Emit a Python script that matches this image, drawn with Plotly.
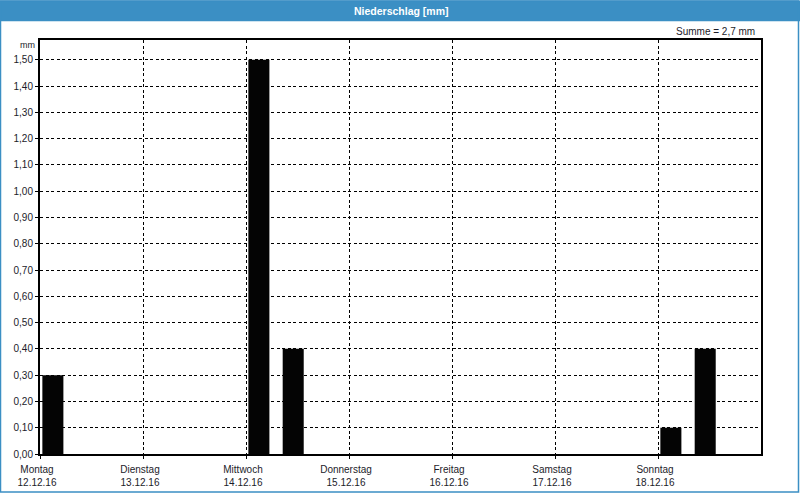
import plotly.graph_objects as go

# ---- data ----
bar_times = ["2016-12-12 03:00", "2016-12-14 03:00", "2016-12-14 11:00",
             "2016-12-18 03:00", "2016-12-18 11:00"]
bar_values = [0.30, 1.50, 0.40, 0.10, 0.40]
day_ticks = ["2016-12-12", "2016-12-13", "2016-12-14", "2016-12-15",
             "2016-12-16", "2016-12-17", "2016-12-18"]
day_names = ["Montag", "Dienstag", "Mittwoch", "Donnerstag", "Freitag", "Samstag", "Sonntag"]
day_dates = ["12.12.16", "13.12.16", "14.12.16", "15.12.16", "16.12.16", "17.12.16", "18.12.16"]
title_text = "Niederschlag [mm]"
unit_text = "mm"

W, H = 800, 500
L, R, T, B = 40, 39, 40, 40
PW, PH = W - L - R, H - T - B

def px(x):
    return (x - L) / PW

def py(y):
    return 1 - (y - T) / PH

BLUE = "#3b8fc4"
TXT = "#1c1c2a"
FONT = "Liberation Sans"

total = sum(bar_values)
summe = ("Summe = %.1f mm" % total).replace(".", ",")

fig = go.Figure()
fig.add_trace(go.Bar(
    x=bar_times, y=bar_values,
    width=4.9 * 3600 * 1000,
    marker=dict(color="#040404", line=dict(width=0)),
))

fig.update_layout(
    width=W, height=H,
    margin=dict(l=L, r=R, t=T, b=B),
    paper_bgcolor="white", plot_bgcolor="white",
    separators=",.",
    showlegend=False,
    font=dict(family=FONT, size=10, color=TXT),
    xaxis=dict(
        type="date",
        range=["2016-12-12 00:00", "2016-12-19 00:00"],
        tickmode="array",
        tickvals=day_ticks,
        ticktext=[f"{n}<br>{d}" for n, d in zip(day_names, day_dates)],
        showgrid=True, gridcolor="black", griddash="3px,2.5px", gridwidth=1,
        showline=True, linecolor="black", linewidth=2, mirror=True,
        ticks="outside", ticklen=3, tickcolor="black",
        ticklabelshift=-3, ticklabelstandoff=2,
        tickfont=dict(family=FONT, size=10, color=TXT),
        zeroline=False, fixedrange=True,
    ),
    yaxis=dict(
        range=[0, 1.575],
        tick0=0, dtick=0.1, tickformat=".2f",
        showgrid=True, gridcolor="black", griddash="3px,2.5px", gridwidth=1,
        showline=True, linecolor="black", linewidth=2, mirror=True,
        ticks="outside", ticklen=3, tickcolor="black",
        tickfont=dict(family=FONT, size=10, color=TXT),
        zeroline=False, fixedrange=True,
    ),
    shapes=[
        dict(type="rect", xref="paper", yref="paper",
             x0=px(0), x1=px(800), y0=py(21), y1=py(0),
             fillcolor=BLUE, line=dict(width=0), layer="above"),
        dict(type="rect", xref="paper", yref="paper",
             x0=px(0.5), x1=px(798.5), y0=py(498.5), y1=py(0.5),
             line=dict(color=BLUE, width=1.5), fillcolor="rgba(0,0,0,0)"),
    ],
    annotations=[
        dict(text=f"<b>{title_text}</b>", xref="paper", yref="paper",
             x=px(401), y=py(10.5), xanchor="center", yanchor="middle",
             showarrow=False, font=dict(family=FONT, size=10.5, color="white")),
        dict(text=summe, xref="paper", yref="paper",
             x=px(757), y=py(31), xanchor="right", yanchor="middle",
             showarrow=False, font=dict(family=FONT, size=10, color=TXT)),
        dict(text=unit_text, xref="paper", yref="paper",
             x=px(37), y=py(45), xanchor="right", yanchor="middle",
             showarrow=False, font=dict(family=FONT, size=9, color=TXT)),
    ],
)

fig.write_html("out.html", config={"displayModeBar": False})
